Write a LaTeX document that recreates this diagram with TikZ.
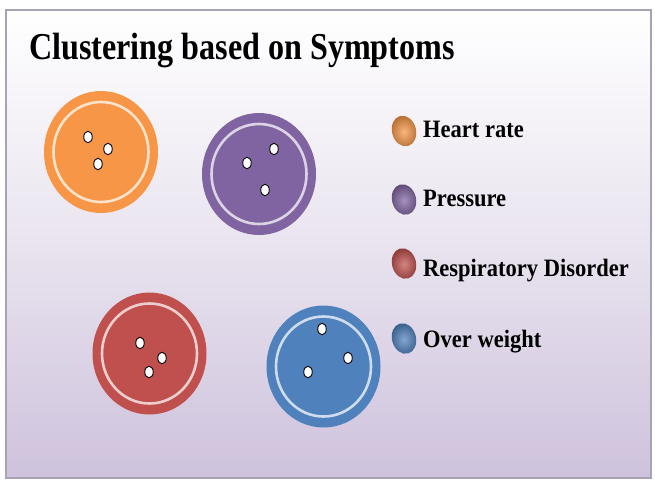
\documentclass[tikz,border=0pt]{standalone}
\usepackage{fontspec}
\setmainfont{Liberation Serif}
\usetikzlibrary{shapes.geometric}
\definecolor{hrc}{HTML}{F79646}
\definecolor{prc}{HTML}{8064A2}
\definecolor{rdc}{HTML}{C0504D}
\definecolor{owc}{HTML}{4F81BD}
\definecolor{bgbot}{HTML}{CEC2DC}
\definecolor{framec}{HTML}{A9A2B6}
\begin{document}
\begin{tikzpicture}[x=1pt,y=-1pt,
  hole/.style={draw=black,line width=0.9pt,fill=white,ellipse,minimum width=8.5pt,minimum height=11.5pt,inner sep=0pt},
  legtext/.style={anchor=base west,inner sep=0pt,font=\fontsize{25}{27}\selectfont\bfseries},
  titletext/.style={anchor=base west,inner sep=0pt,font=\fontsize{38}{40}\selectfont\bfseries},
  bullet/.style={inner color=#1!70!white, outer color=#1!75!black},
  button/.pic={
    \fill[#1] (0,0) ellipse [x radius=57, y radius=61];
    \draw[#1!28!white,line width=2.6pt] (0,0) ellipse [x radius=47.5, y radius=50];
  }
]
\useasboundingbox (0,0) rectangle (655,485);
\fill[white] (0,0) rectangle (655,485);
\shade[top color=white,bottom color=bgbot,middle color=bgbot!45!white] (6,10) rectangle (651,478);
\draw[framec,line width=2pt] (6,10) rectangle (651,478);

\node[titletext] (title) at (29,59) {\scalebox{0.845}[1]{Clustering based on Symptoms}};

% buttons
\pic at (101,152) {button=hrc};
\pic at (259,174) {button=prc};
\pic at (149.5,353.5) {button=rdc};
\pic at (323.5,366.5) {button=owc};

% holes
\node[hole] (h1) at (88,137) {};
\node[hole] (h2) at (108,149) {};
\node[hole] (h3) at (98,164) {};
\node[hole] (p1) at (247,163) {};
\node[hole] (p2) at (274,149) {};
\node[hole] (p3) at (265,190) {};
\node[hole] (r1) at (140,343) {};
\node[hole] (r2) at (162,358) {};
\node[hole] (r3) at (149,372) {};
\node[hole] (o1) at (322,329) {};
\node[hole] (o2) at (348,358) {};
\node[hole] (o3) at (308,372) {};

% legend bullets
\shade[bullet=hrc, rotate around={15:(404,131)}] (404,131) ellipse [x radius=12, y radius=15.5];
\shade[bullet=prc, rotate around={15:(404,199.5)}] (404,199.5) ellipse [x radius=12, y radius=15.5];
\shade[bullet=rdc, rotate around={15:(404,263.5)}] (404,263.5) ellipse [x radius=12, y radius=15.5];
\shade[bullet=owc, rotate around={15:(404,338.5)}] (404,338.5) ellipse [x radius=12, y radius=15.5];

% legend texts
\node[legtext] (l1) at (423,137) {\scalebox{0.9}[1]{Heart rate}};
\node[legtext] (l2) at (423,206) {\scalebox{0.9}[1]{Pressure}};
\node[legtext] (l3) at (423,276) {\scalebox{0.9}[1]{Respiratory Disorder}};
\node[legtext] (l4) at (423,347) {\scalebox{0.9}[1]{Over weight}};
\end{tikzpicture}
\end{document}
